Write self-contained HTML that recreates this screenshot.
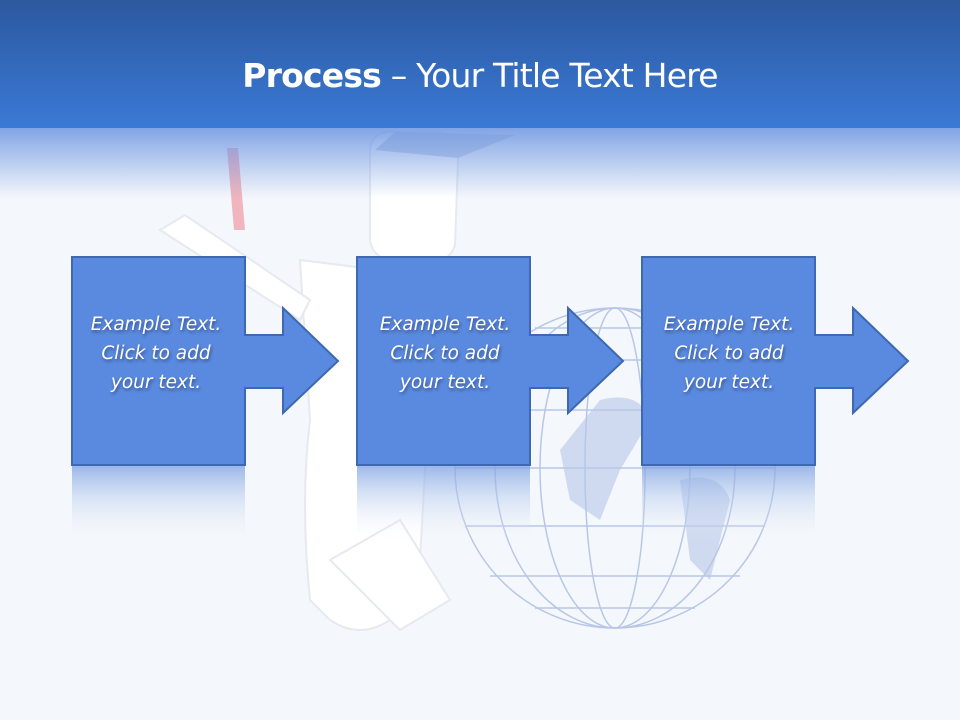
<!DOCTYPE html>
<html><head><meta charset="utf-8"><style>
html,body{margin:0;padding:0;}
body{width:960px;height:720px;overflow:hidden;background:#f4f7fb;position:relative;font-family:"Liberation Sans",sans-serif;}
.hdr{position:absolute;left:0;top:0;width:960px;height:128px;background:linear-gradient(#2c589f,#3a7ad6);}
.fade{position:absolute;left:0;top:128px;width:960px;height:70px;background:linear-gradient(rgba(110,150,225,0.85),rgba(244,247,251,0));}
.title{position:absolute;left:0;top:56px;width:960px;text-align:center;color:#fff;font-size:33px;font-family:"DejaVu Sans","Liberation Sans",sans-serif;letter-spacing:-0.8px;}
.t{position:absolute;width:174px;text-align:center;color:#fff;font-style:italic;line-height:29px;top:310px;text-shadow:1px 2px 3px rgba(0,0,40,0.45);font-family:"DejaVu Sans","Liberation Sans",sans-serif;font-size:18.5px;}
</style></head><body>
<svg width="960" height="720" style="position:absolute;left:0;top:0">
<defs>
<linearGradient id="rf" x1="0" y1="0" x2="0" y2="1">
<stop offset="0" stop-color="#7ea2e2" stop-opacity="0.75"/><stop offset="1" stop-color="#f4f7fb" stop-opacity="0"/></linearGradient>
</defs>
<g fill="#ffffff" stroke="#e6e9ef" stroke-width="2">
<path d="M370 150 Q372 130 395 132 L440 132 Q460 135 458 160 L455 245 Q450 262 430 262 L395 262 Q372 258 370 240 Z"/>
<path d="M300 260 L380 270 L430 300 L425 470 L420 560 L390 620 Q360 640 330 620 L310 600 Q300 500 310 420 Z"/>
<path d="M160 230 L185 215 L310 300 L300 320 Z"/>
<path d="M330 560 L400 520 L450 600 L400 630 Z"/>
</g>
<path d="M375 150 L395 132 L515 135 L458 158 Z" fill="#c9d4e6"/>
<path d="M227 148 L234 230 L245 230 L238 148 Z" fill="#f0b5bd"/>
<g fill="none" stroke="#b8c7e6" stroke-width="1.5">
<circle cx="615" cy="468" r="160"/>
<ellipse cx="615" cy="468" rx="120" ry="160"/>
<ellipse cx="615" cy="468" rx="75" ry="160"/>
<ellipse cx="615" cy="468" rx="30" ry="160"/>
<line x1="455" y1="468" x2="775" y2="468"/>
<line x1="465" y1="410" x2="765" y2="410"/>
<line x1="465" y1="526" x2="765" y2="526"/>
<line x1="490" y1="360" x2="740" y2="360"/>
<line x1="490" y1="576" x2="740" y2="576"/>
<line x1="535" y1="328" x2="695" y2="328"/>
<line x1="535" y1="608" x2="695" y2="608"/>
</g>
<path d="M600 400 Q640 390 650 420 L620 470 L600 520 L570 500 L560 450 Z" fill="#b5c6ea" opacity="0.6"/>
<path d="M680 480 Q720 470 730 500 L710 580 L690 560 Z" fill="#b5c6ea" opacity="0.6"/>
<rect x="72" y="466" width="173" height="75" fill="url(#rf)"/>
<rect x="357" y="466" width="173" height="75" fill="url(#rf)"/>
<rect x="642" y="466" width="173" height="75" fill="url(#rf)"/>
<g fill="#5a8adf" stroke="#3e69b0" stroke-width="2">
<path d="M72 257 L245 257 L245 335 L283 335 L283 308 L338 361 L283 413 L283 388 L245 388 L245 465 L72 465 Z"/>
<path d="M357 257 L530 257 L530 335 L568 335 L568 308 L623 361 L568 413 L568 388 L530 388 L530 465 L357 465 Z"/>
<path d="M642 257 L815 257 L815 335 L853 335 L853 308 L908 361 L853 413 L853 388 L815 388 L815 465 L642 465 Z"/>
</g>
</svg>
<div class="hdr"></div><div class="fade"></div>
<div class="title"><b>Process</b> – Your Title Text Here</div>
<div class="t" style="left:69px">Example Text.<br>Click to add<br>your text.</div>
<div class="t" style="left:358px">Example Text.<br>Click to add<br>your text.</div>
<div class="t" style="left:642px">Example Text.<br>Click to add<br>your text.</div>
</body></html>
